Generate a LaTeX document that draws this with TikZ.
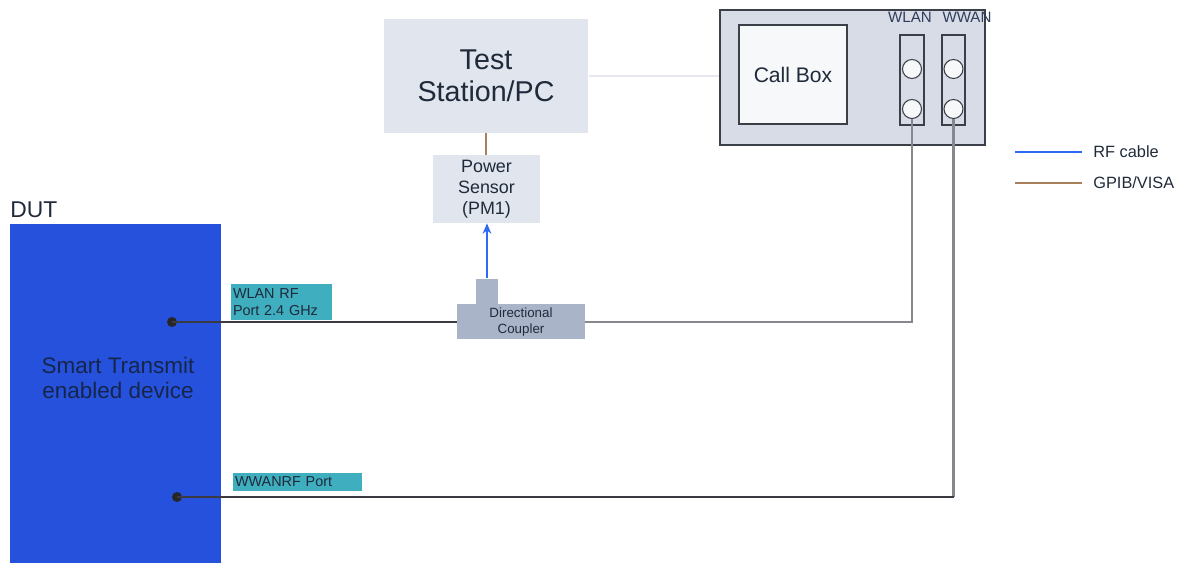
\documentclass[tikz,border=0pt]{standalone}
\usepackage{fontspec}
\setmainfont{Liberation Sans}
\usetikzlibrary{arrows.meta}
\definecolor{tsfill}{HTML}{E1E5EE}
\definecolor{cbfill}{HTML}{D8DCE6}
\definecolor{cbdraw}{HTML}{3A3F48}
\definecolor{innerfill}{HTML}{F7F8FA}
\definecolor{cpfill}{HTML}{A9B4C8}
\definecolor{dutfill}{HTML}{2651DD}
\definecolor{teal}{HTML}{3FAEBF}
\definecolor{txt}{HTML}{1F2A3A}
\definecolor{navy}{HTML}{15264A}
\definecolor{cablegray}{HTML}{86888E}
\definecolor{darkline}{HTML}{3A3A40}
\definecolor{rfblue}{HTML}{2E6BF5}
\definecolor{gpib}{HTML}{A8805E}
\definecolor{lightline}{HTML}{E6E8EE}
\definecolor{porttxt}{HTML}{2F3D5A}
\tikzset{
  box/.style={inner sep=0pt, align=center, text=txt},
  portcol/.style={draw=cbdraw, line width=0.6pt, fill=cbfill, inner sep=0pt},
  portcirc/.style={circle, draw=cbdraw, line width=0.6pt, fill=innerfill, inner sep=0pt, minimum size=0.38cm},
  portlabel/.style={fill=teal, inner sep=1pt, align=left, text=txt, anchor=center},
  dot/.style={circle, fill=black!85, inner sep=0pt, minimum size=0.2cm},
  cable/.style={draw=cablegray, line width=1.4pt},
  dcable/.style={draw=darkline, line width=0.8pt},
}
\begin{document}
\begin{tikzpicture}[x=0.02cm, y=-0.02cm]
\useasboundingbox (0,0) rectangle (1198,563);
% Test station
\node[box, fill=tsfill, minimum width=4.1cm, minimum height=2.28cm,
  font=\fontsize{16.3}{18.5}\selectfont] (ts) at (486,76) {Test\\Station/PC};
% Call box
\node[draw=cbdraw, line width=0.7pt, fill=cbfill, minimum width=5.3cm, minimum height=2.7cm, inner sep=0pt] (cb) at (852.5,77.5) {};
\node[box, draw=cbdraw, line width=0.7pt, fill=innerfill, minimum width=2.16cm, minimum height=1.98cm,
  font=\fontsize{12}{14}\selectfont] (cbin) at (793,74.5) {Call Box};
\node[portcol, minimum width=0.48cm, minimum height=1.8cm] (wlancol) at (912,80) {};
\node[portcol, minimum width=0.46cm, minimum height=1.8cm] (wwancol) at (953.5,80) {};
\node[portcirc] (wlanA) at (912,69) {};
\node[portcirc] (wlanB) at (912,109) {};
\node[portcirc] (wwanA) at (953.5,69) {};
\node[portcirc] (wwanB) at (953.5,109) {};
\node[text=porttxt, inner sep=0pt, font=\fontsize{8.6}{10}\selectfont] (wlanlbl) at (910,17) {WLAN};
\node[text=porttxt, inner sep=0pt, font=\fontsize{8.6}{10}\selectfont] (wwanlbl) at (967,17) {WWAN};
% Power sensor
\node[box, fill=tsfill, minimum width=2.14cm, minimum height=1.36cm,
  font=\fontsize{10.2}{12}\selectfont] (ps) at (486.5,189) {Power\\Sensor\\(PM1)};
% Directional coupler
\node[fill=cpfill, minimum width=0.44cm, minimum height=0.53cm, inner sep=0pt] (bump) at (487,292) {};
\node[box, fill=cpfill, minimum width=2.56cm, minimum height=0.7cm,
  font=\fontsize{7.6}{9.5}\selectfont] (cp) at (521,322) {Directional\\Coupler};
% DUT
\node[fill=dutfill, minimum width=4.22cm, minimum height=6.8cm, inner sep=0pt] (dut) at (115.5,394) {};
\node[text=navy, align=center, inner sep=0pt, font=\fontsize{12.8}{13.8}\selectfont] (duttext) at (118,378) {Smart Transmit\\enabled device};
\node[text=txt, anchor=south west, inner sep=0pt, font=\fontsize{13}{15}\selectfont] (dutlbl) at (10,218) {DUT};
\node[dot] (wlandot) at (172,322) {};
\node[dot] (wwandot) at (177,497) {};
\node[portlabel, minimum width=2.02cm, minimum height=0.72cm, font=\fontsize{8.2}{10}\selectfont,
  text width=1.94cm] (wlanrf) at (281.5,302) {WLAN RF\\Port 2.4 GHz};
\node[portlabel, minimum width=2.58cm, minimum height=0.36cm, font=\fontsize{8.2}{10}\selectfont,
  text width=2.5cm] (wwanrf) at (297.5,482) {WWANRF Port};
% Connectors
\draw[lightline, line width=0.6pt] (ts.east) -- (ts.east -| cb.west);
\draw[gpib, line width=0.8pt] (ts.south) -- (ts.south |- ps.north);
\draw[rfblue, line width=0.9pt, -{Stealth[length=6pt,width=5pt]}] (bump.north) -- (bump.north |- ps.south);
\draw[dcable] (wlandot.center) -- (cp.west);
\draw[cable] (cp.east) -| (wlanB.south);
\coordinate (wwancorner) at (wwanB.south |- wwandot.center);
\draw[cable] (wwanB.south) -- (wwancorner);
\draw[dcable, line width=1pt] (wwandot.center) -- (wwancorner);
% Legend
\coordinate (l1a) at (1015,152);
\coordinate (l1b) at (1082,152);
\coordinate (l2a) at (1015,183);
\coordinate (l2b) at (1082,183);
\draw[rfblue, line width=0.7pt] (l1a) -- (l1b);
\draw[gpib, line width=0.7pt] (l2a) -- (l2b);
\node[anchor=west, text=txt, inner sep=0pt, font=\fontsize{9.3}{11}\selectfont] (leg1) at (1093,152) {RF cable};
\node[anchor=west, text=txt, inner sep=0pt, font=\fontsize{9.3}{11}\selectfont] (leg2) at (1093,183) {GPIB/VISA};
\end{tikzpicture}
\end{document}
